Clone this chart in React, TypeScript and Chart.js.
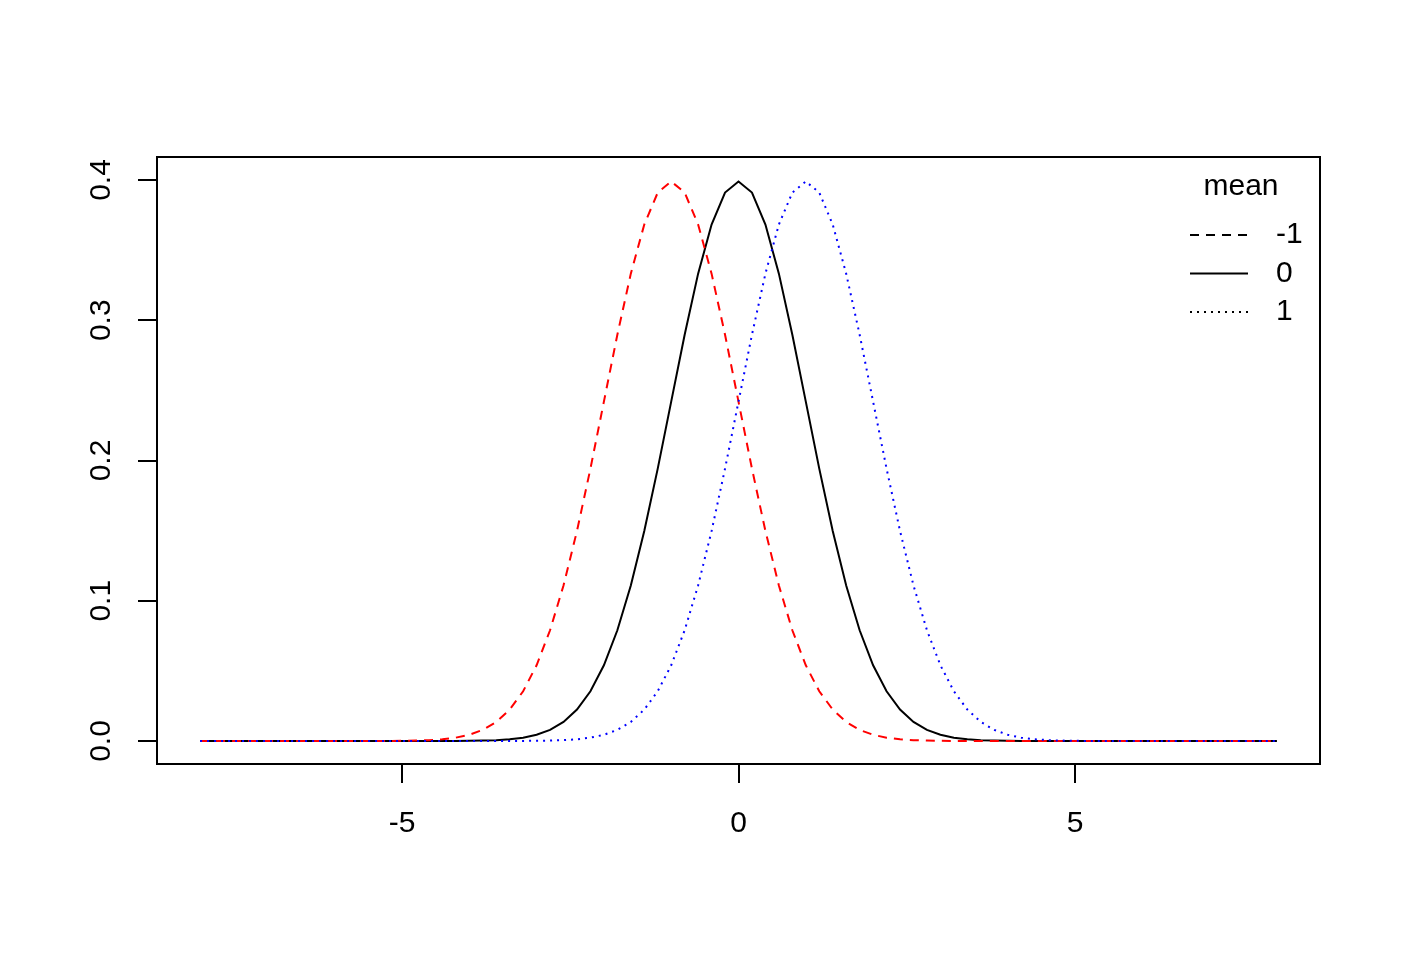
import React, { useEffect, useRef } from 'react';
import { Chart, registerables } from 'chart.js';

Chart.register(...registerables);

// x positions where the densities were read
const xGrid = [
  -8, -7, -6, -5.6, -5.4, -5.2, -5, -4.8, -4.6, -4.4, -4.2, -4, -3.8, -3.6, -3.4, -3.2, -3, -2.8, -2.6, -2.4, -2.2,
  -2, -1.8, -1.6, -1.4, -1.2, -1, -0.8, -0.6, -0.4, -0.2, 0, 0.2, 0.4, 0.6, 0.8, 1, 1.2, 1.4, 1.6, 1.8, 2, 2.2, 2.4,
  2.6, 2.8, 3, 3.2, 3.4, 3.6, 3.8, 4, 4.2, 4.4, 4.6, 4.8, 5, 5.2, 5.4, 5.6, 6, 7, 8,
];

// density, mean = -1
const densMeanMinus1 = [
  0, 0, 0, 0.00001, 0.00002, 0.00006, 0.00013, 0.00029, 0.00061, 0.00123, 0.00238, 0.00443, 0.00792, 0.01358,
  0.02239, 0.03547, 0.05399, 0.07895, 0.11092, 0.14973, 0.19419, 0.24197, 0.28969, 0.33322, 0.36827, 0.39104,
  0.39894, 0.39104, 0.36827, 0.33322, 0.28969, 0.24197, 0.19419, 0.14973, 0.11092, 0.07895, 0.05399, 0.03547,
  0.02239, 0.01358, 0.00792, 0.00443, 0.00238, 0.00123, 0.00061, 0.00029, 0.00013, 0.00006, 0.00002, 0.00001,
  0, 0, 0, 0, 0, 0, 0, 0, 0, 0, 0, 0, 0,
];

// density, mean = 0
const densMean0 = [
  0, 0, 0, 0, 0, 0, 0, 0, 0.00001, 0.00002, 0.00006, 0.00013, 0.00029, 0.00061, 0.00123, 0.00238, 0.00443,
  0.00792, 0.01358, 0.02239, 0.03547, 0.05399, 0.07895, 0.11092, 0.14973, 0.19419, 0.24197, 0.28969, 0.33322,
  0.36827, 0.39104, 0.39894, 0.39104, 0.36827, 0.33322, 0.28969, 0.24197, 0.19419, 0.14973, 0.11092, 0.07895,
  0.05399, 0.03547, 0.02239, 0.01358, 0.00792, 0.00443, 0.00238, 0.00123, 0.00061, 0.00029, 0.00013, 0.00006,
  0.00002, 0.00001, 0, 0, 0, 0, 0, 0, 0, 0,
];

// density, mean = 1
const densMean1 = [
  0, 0, 0, 0, 0, 0, 0, 0, 0, 0, 0, 0, 0, 0.00001, 0.00002, 0.00006, 0.00013, 0.00029, 0.00061, 0.00123, 0.00238,
  0.00443, 0.00792, 0.01358, 0.02239, 0.03547, 0.05399, 0.07895, 0.11092, 0.14973, 0.19419, 0.24197, 0.28969,
  0.33322, 0.36827, 0.39104, 0.39894, 0.39104, 0.36827, 0.33322, 0.28969, 0.24197, 0.19419, 0.14973, 0.11092,
  0.07895, 0.05399, 0.03547, 0.02239, 0.01358, 0.00792, 0.00443, 0.00238, 0.00123, 0.00061, 0.00029, 0.00013,
  0.00006, 0.00002, 0.00001, 0, 0, 0,
];

const seriesLabels = ['-1', '0', '1'];
const legendTitle = 'mean';
const xTickValues = [-5, 0, 5];
const xTickLabels = ['-5', '0', '5'];
const yTickValues = [0, 0.1, 0.2, 0.3, 0.4];
const yTickLabels = ['0.0', '0.1', '0.2', '0.3', '0.4'];

const FONT_FAMILY = '"Liberation Sans", Arial, Helvetica, sans-serif';
const FONT_SIZE = 30;

const toPoints = (ys: number[]) => xGrid.map((x, i) => ({ x, y: ys[i] }));

const boxPlugin = {
  id: 'plotBox',
  afterDatasetsDraw(chart: any) {
    const { ctx, chartArea: a } = chart;
    ctx.save();
    ctx.strokeStyle = '#000';
    ctx.lineWidth = 2;
    ctx.setLineDash([]);
    ctx.strokeRect(a.left, a.top, a.right - a.left, a.bottom - a.top);
    ctx.restore();
  },
};

const legendPlugin = {
  id: 'rLegend',
  afterDraw(chart: any) {
    const { ctx, chartArea: a } = chart;
    ctx.save();
    ctx.font = `${FONT_SIZE}px ${FONT_FAMILY}`;
    ctx.fillStyle = '#000';
    ctx.textBaseline = 'middle';
    ctx.textAlign = 'center';
    ctx.fillText(legendTitle, a.right - 79, a.top + 30);
    chart.data.datasets.forEach((ds: any, i: number) => {
      const y = a.top + 78 + i * 38.5;
      ctx.beginPath();
      ctx.setLineDash(ds.borderDash || []);
      ctx.lineWidth = 2;
      ctx.strokeStyle = '#000';
      ctx.moveTo(a.right - 130, y);
      ctx.lineTo(a.right - 72, y);
      ctx.stroke();
      ctx.setLineDash([]);
      ctx.textAlign = 'left';
      ctx.fillText(ds.label, a.right - 44, y);
    });
    ctx.restore();
  },
};

export default function App() {
  const canvasRef = useRef<HTMLCanvasElement | null>(null);

  useEffect(() => {
    if (!canvasRef.current) return;
    const font = { family: FONT_FAMILY, size: FONT_SIZE };
    const chart = new Chart(canvasRef.current, {
      type: 'line',
      data: {
        datasets: [
          {
            label: seriesLabels[0],
            data: toPoints(densMeanMinus1),
            borderColor: '#FF0000',
            borderWidth: 2,
            borderDash: [9, 7],
            pointRadius: 0,
            tension: 0,
            fill: false,
            order: 2,
          },
          {
            label: seriesLabels[1],
            data: toPoints(densMean0),
            borderColor: '#000000',
            borderWidth: 2,
            borderDash: [],
            pointRadius: 0,
            tension: 0,
            fill: false,
            order: 3,
          },
          {
            label: seriesLabels[2],
            data: toPoints(densMean1),
            borderColor: '#0000FF',
            borderWidth: 2,
            borderDash: [2, 5],
            pointRadius: 0,
            tension: 0,
            fill: false,
            order: 1,
          },
        ],
      },
      options: {
        animation: false,
        responsive: false,
        devicePixelRatio: 1,
        layout: { padding: { top: 157, right: 81, left: 0, bottom: 0 } },
        plugins: { legend: { display: false }, tooltip: { enabled: false }, title: { display: false } },
        scales: {
          x: {
            type: 'linear',
            min: -8.64,
            max: 8.64,
            afterBuildTicks: (s: any) => {
              s.ticks = xTickValues.map((v) => ({ value: v }));
            },
            afterFit: (s: any) => {
              s.height = 196;
            },
            ticks: {
              autoSkip: false,
              maxRotation: 0,
              minRotation: 0,
              padding: 23,
              color: '#000',
              font,
              callback: (v: any) => xTickLabels[xTickValues.indexOf(Number(v))],
            },
            grid: {
              drawOnChartArea: false,
              drawTicks: true,
              tickLength: 19,
              tickWidth: 2,
              tickColor: '#000',
              color: '#000',
              lineWidth: 2,
            },
            border: { display: false },
          },
          y: {
            type: 'linear',
            min: -0.0164,
            max: 0.4164,
            afterBuildTicks: (s: any) => {
              s.ticks = yTickValues.map((v) => ({ value: v }));
            },
            afterFit: (s: any) => {
              s.width = 157;
            },
            ticks: {
              autoSkip: false,
              minRotation: 90,
              maxRotation: 90,
              crossAlign: 'center',
              padding: 15,
              color: '#000',
              font,
              callback: (v: any) => {
                const i = yTickValues.findIndex((t) => Math.abs(t - Number(v)) < 1e-9);
                return yTickLabels[i];
              },
            },
            grid: {
              drawOnChartArea: false,
              drawTicks: true,
              tickLength: 19,
              tickWidth: 2,
              tickColor: '#000',
              color: '#000',
              lineWidth: 2,
            },
            border: { display: false },
          },
        },
      },
      plugins: [boxPlugin, legendPlugin],
    } as any);
    return () => chart.destroy();
  }, []);

  return (
    <div style={{ position: 'absolute', left: 0, top: 0, width: 1401, height: 960, background: '#fff' }}>
      <canvas ref={canvasRef} width={1401} height={960} style={{ width: 1401, height: 960, display: 'block' }} />
    </div>
  );
}
